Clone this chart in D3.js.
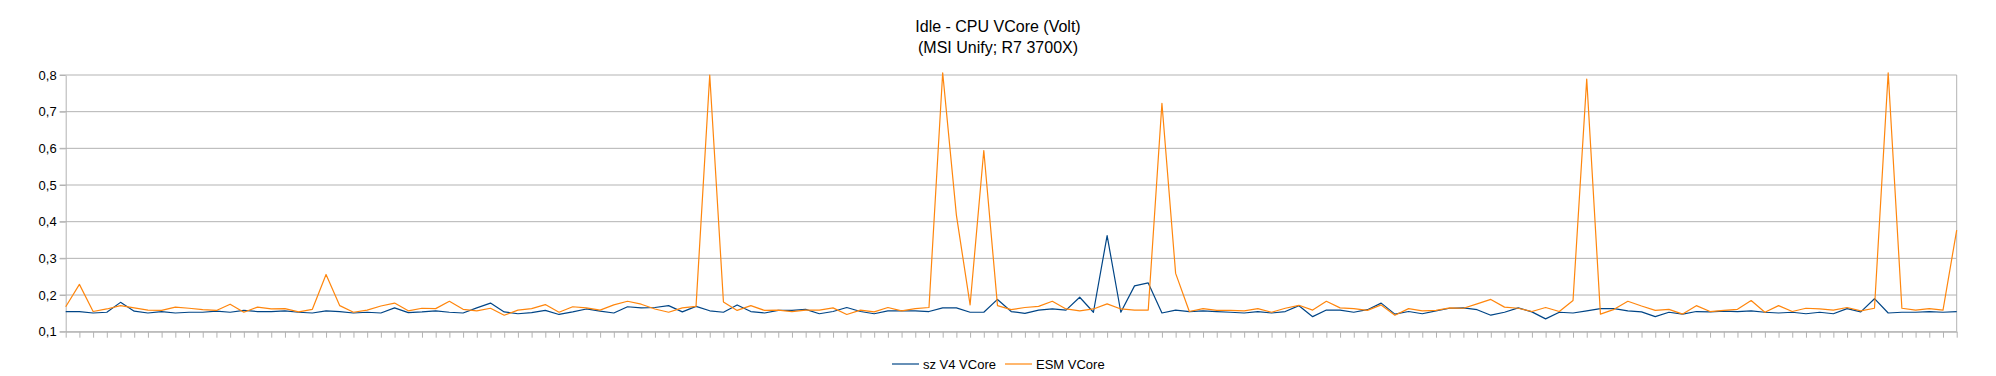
<!DOCTYPE html>
<html>
<head>
<meta charset="utf-8">
<script src="https://cdn.jsdelivr.net/npm/d3@7"></script>
<style>
    body { margin: 0; background: #fff; }
    svg { display: block; font-family: "Liberation Sans", Arial, sans-serif; }
</style>
</head>
<body>
<script>
const titleLines = ["Idle - CPU VCore (Volt)", "(MSI Unify; R7 3700X)"];
const seriesNames = ["sz V4 VCore", "ESM VCore"];
const seriesColors = ["#004586", "#ff860d"];
const yTicks = [0.1, 0.2, 0.3, 0.4, 0.5, 0.6, 0.7, 0.8];

const szV4 = [
    0.155, 0.155, 0.151, 0.153, 0.180, 0.156, 0.151, 0.155, 0.151, 0.153,
    0.153, 0.156, 0.153, 0.158, 0.155, 0.155, 0.157, 0.153, 0.151, 0.157,
    0.155, 0.151, 0.153, 0.151, 0.165, 0.152, 0.154, 0.157, 0.153, 0.151,
    0.165, 0.178, 0.154, 0.149, 0.152, 0.158, 0.147, 0.154, 0.162, 0.156,
    0.151, 0.168, 0.165, 0.166, 0.171, 0.154, 0.169, 0.157, 0.153, 0.173,
    0.155, 0.151, 0.158, 0.158, 0.161, 0.149, 0.155, 0.166, 0.155, 0.149,
    0.157, 0.157, 0.157, 0.155, 0.165, 0.165, 0.153, 0.153, 0.188, 0.155,
    0.150, 0.159, 0.162, 0.159, 0.194, 0.153, 0.362, 0.153, 0.225, 0.233,
    0.151, 0.159, 0.155, 0.157, 0.155, 0.153, 0.151, 0.155, 0.151, 0.155,
    0.171, 0.141, 0.159, 0.159, 0.153, 0.160, 0.178, 0.148, 0.155, 0.149,
    0.157, 0.164, 0.165, 0.160, 0.145, 0.153, 0.165, 0.154, 0.135, 0.153,
    0.151, 0.157, 0.163, 0.163, 0.157, 0.154, 0.141, 0.153, 0.148, 0.155,
    0.154, 0.156, 0.155, 0.157, 0.153, 0.151, 0.153, 0.149, 0.153, 0.149,
    0.163, 0.154, 0.190, 0.151, 0.153, 0.153, 0.155, 0.153, 0.155
];

const esm = [
    0.168, 0.229, 0.155, 0.162, 0.171, 0.165, 0.159, 0.158, 0.167, 0.164,
    0.160, 0.158, 0.175, 0.153, 0.167, 0.162, 0.163, 0.154, 0.161, 0.256,
    0.171, 0.153, 0.159, 0.170, 0.178, 0.157, 0.164, 0.163, 0.183, 0.161,
    0.157, 0.164, 0.145, 0.159, 0.163, 0.174, 0.153, 0.168, 0.165, 0.159,
    0.173, 0.183, 0.175, 0.162, 0.153, 0.165, 0.169, 0.800, 0.181, 0.158,
    0.171, 0.158, 0.159, 0.155, 0.159, 0.159, 0.165, 0.147, 0.159, 0.154,
    0.166, 0.157, 0.163, 0.166, 0.806, 0.418, 0.173, 0.594, 0.171, 0.160,
    0.166, 0.169, 0.183, 0.162, 0.157, 0.162, 0.176, 0.162, 0.159, 0.159,
    0.723, 0.259, 0.155, 0.163, 0.158, 0.158, 0.157, 0.163, 0.153, 0.164,
    0.172, 0.159, 0.183, 0.165, 0.163, 0.158, 0.173, 0.145, 0.163, 0.157,
    0.158, 0.165, 0.164, 0.176, 0.188, 0.167, 0.164, 0.155, 0.166, 0.155,
    0.185, 0.789, 0.148, 0.161, 0.183, 0.170, 0.158, 0.161, 0.148, 0.171,
    0.155, 0.158, 0.161, 0.185, 0.153, 0.171, 0.155, 0.164, 0.162, 0.159,
    0.166, 0.157, 0.164, 0.806, 0.164, 0.159, 0.163, 0.159, 0.377
];

const fullWidth = 1996;
const fullHeight = 376;
const margin = { top: 75, right: 39.3, bottom: 44.3, left: 65.7 };
const width = fullWidth - margin.left - margin.right;
const height = fullHeight - margin.top - margin.bottom;

function lineChartBuilder() {
    const root = d3.select("body").append("svg")
        .attr("width", fullWidth)
        .attr("height", fullHeight);

    root.append("g")
        .attr("id", "title")
        .selectAll("text")
        .data(titleLines)
        .enter().append("text")
        .attr("x", fullWidth / 2)
        .attr("y", (d, i) => 32 + i * 21)
        .attr("text-anchor", "middle")
        .style("font-size", "16px")
        .style("fill", "#000")
        .text(d => d);

    const svg = root.append("g")
        .attr("transform", "translate(" + margin.left + "," + margin.top + ")");

    const xScale = d3.scalePoint()
        .domain(d3.range(szV4.length))
        .range([0, width]);

    const yScale = d3.scaleLinear()
        .domain([0.1, 0.8])
        .range([height, 0]);

    // horizontal grid
    svg.append("g")
        .attr("class", "grid")
        .selectAll("line")
        .data(yTicks)
        .enter().append("line")
        .attr("x1", -6)
        .attr("x2", width)
        .attr("y1", d => yScale(d))
        .attr("y2", d => yScale(d))
        .style("stroke", "#b3b3b3")
        .style("stroke-width", 1);

    svg.append("line")
        .attr("x1", width).attr("x2", width)
        .attr("y1", 0).attr("y2", height)
        .style("stroke", "#b3b3b3");

    const xAxis = d3.axisBottom(xScale)
        .tickFormat("")
        .tickSizeInner(6)
        .tickSizeOuter(0);

    const yAxis = d3.axisLeft(yScale)
        .tickValues(yTicks)
        .tickFormat(d => d3.format(".1f")(d).replace(".", ","))
        .tickSizeInner(6)
        .tickSizeOuter(0)
        .tickPadding(3);

    const gx = svg.append("g")
        .attr("id", "x-axis")
        .attr("transform", "translate(0," + height + ")")
        .call(xAxis);

    const gy = svg.append("g")
        .attr("id", "y-axis")
        .call(yAxis);

    [gx, gy].forEach(g => {
        g.selectAll("path, line").style("stroke", "#b3b3b3");
        g.selectAll("text")
            .style("font-family", "'Liberation Sans', Arial, sans-serif")
            .style("font-size", "13px")
            .style("fill", "#000");
    });

    const line = d3.line()
        .x((d, i) => xScale(i))
        .y(d => yScale(d));

    [szV4, esm].forEach((values, s) => {
        svg.append("path")
            .datum(values)
            .attr("class", "series")
            .attr("d", line)
            .style("fill", "none")
            .style("stroke", seriesColors[s])
            .style("stroke-width", 1.2)
            .style("stroke-linejoin", "round");
    });

    // legend
    const legendX = [892, 1005];
    const legend = root.append("g")
        .attr("id", "legend")
        .selectAll("g")
        .data(seriesNames)
        .enter().append("g")
        .attr("transform", (d, i) => "translate(" + legendX[i] + ",364)");

    legend.append("line")
        .attr("x1", 0)
        .attr("x2", 27)
        .style("stroke", (d, i) => seriesColors[i])
        .style("stroke-width", 1.2);

    legend.append("text")
        .attr("x", 31)
        .attr("y", 0)
        .attr("dy", "0.35em")
        .style("font-size", "13px")
        .style("fill", "#000")
        .text(d => d);
}

document.addEventListener("DOMContentLoaded", () => lineChartBuilder());
</script>
</body>
</html>
